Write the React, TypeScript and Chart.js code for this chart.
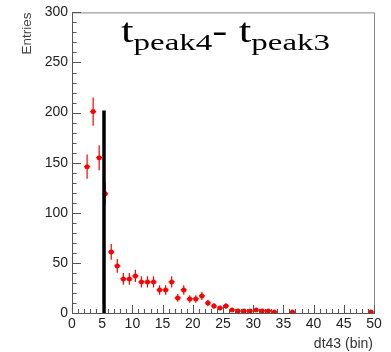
import React, { useEffect, useRef } from "react";
import { Chart, registerables } from "chart.js";
Chart.register(...registerables);

// Histogram bins (bin centres) and entries
const binCenters = [2.5, 3.5, 4.5, 5.5, 6.5, 7.5, 8.5, 9.5, 10.5, 11.5, 12.5, 13.5, 14.5, 15.5, 16.5, 17.5, 18.5, 19.5, 20.5, 21.5, 22.5, 23.5, 24.5, 25.5, 26.5, 27.5, 28.5, 29.5, 30.5, 31.5, 32.5, 33.5, 36.5, 49.5];
const counts = [146, 201, 155, 119, 61, 47, 34, 34, 37, 31, 31, 31, 23, 23, 31, 15, 23, 14, 14, 17, 10, 7, 5, 7, 3, 2, 2, 2, 3, 2, 2, 1, 1, 1];
const binHalfWidth = 0.5;

// Cut line
const cutX = [5.3, 5.3];
const cutY = [0, 202];

// Axis ranges / ticks
const xRange = [0, 50];
const yRange = [0, 300];
const xMajorStep = 5;
const xMinorStep = 1;
const yMajorStep = 50;
const yMinorStep = 10;

const titleMain1 = "t";
const titleSub1 = "peak4";
const titleMid = "- ";
const titleMain2 = "t";
const titleSub2 = "peak3";
const yTitle = "Entries";
const xTitle = "dt43 (bin)";

const RED = "#ff0000";
const AXIS = "#555555";

const decorPlugin = {
  id: "decor",
  beforeDatasetsDraw(chart: any) {
    const ctx = chart.ctx;
    const xs = chart.scales.x;
    const ys = chart.scales.y;
    ctx.save();
    ctx.strokeStyle = RED;
    ctx.lineWidth = 1.2;
    binCenters.forEach((c, i) => {
      const n = counts[i];
      const e = Math.sqrt(n);
      const px = xs.getPixelForValue(c);
      const py = ys.getPixelForValue(n);
      ctx.beginPath();
      ctx.moveTo(px, ys.getPixelForValue(Math.max(0, n - e)));
      ctx.lineTo(px, ys.getPixelForValue(n + e));
      ctx.moveTo(xs.getPixelForValue(c - binHalfWidth), py);
      ctx.lineTo(xs.getPixelForValue(c + binHalfWidth), py);
      ctx.stroke();
    });
    ctx.restore();
  },
  afterDraw(chart: any) {
    const ctx = chart.ctx;
    const xs = chart.scales.x;
    const ys = chart.scales.y;
    const a = chart.chartArea;
    ctx.save();
    // frame top & right
    ctx.strokeStyle = "#888888";
    ctx.lineWidth = 1;
    ctx.beginPath();
    ctx.moveTo(a.left, a.top + 0.5);
    ctx.lineTo(a.right + 0.5, a.top + 0.5);
    ctx.lineTo(a.right + 0.5, a.bottom);
    ctx.stroke();
    // ticks inward
    ctx.strokeStyle = AXIS;
    ctx.beginPath();
    for (let v = xRange[0]; v <= xRange[1] + 1e-9; v += xMinorStep) {
      const px = Math.round(xs.getPixelForValue(v)) + 0.5;
      const len = Math.abs(v % xMajorStep) < 1e-9 ? 8 : 4;
      ctx.moveTo(px, a.bottom);
      ctx.lineTo(px, a.bottom - len);
    }
    for (let v = yRange[0]; v <= yRange[1] + 1e-9; v += yMinorStep) {
      const py = Math.round(ys.getPixelForValue(v)) + 0.5;
      const len = Math.abs(v % yMajorStep) < 1e-9 ? 9 : 4.5;
      ctx.moveTo(a.left, py);
      ctx.lineTo(a.left + len, py);
    }
    ctx.stroke();

    // axis titles
    ctx.fillStyle = "#333333";
    ctx.font = '14px "Liberation Sans", Arial, sans-serif';
    ctx.textAlign = "right";
    ctx.textBaseline = "middle";
    ctx.fillText(xTitle, a.right - 1, 344);
    ctx.save();
    ctx.fillStyle = "#444444";
    ctx.font = '13.5px "Liberation Sans", Arial, sans-serif';
    ctx.translate(27, a.top);
    ctx.rotate(-Math.PI / 2);
    ctx.textAlign = "right";
    ctx.fillText(yTitle, 0, 0);
    ctx.restore();

    // main title with subscripts
    const mainFont = '33px "Liberation Serif", serif';
    const subFont = '24px "Liberation Serif", serif';
    const pieces = [
      { t: titleMain1, f: mainFont, dy: 0 },
      { t: titleSub1, f: subFont, dy: 8 },
      { t: titleMid, f: mainFont, dy: 0 },
      { t: titleMain2, f: mainFont, dy: 0 },
      { t: titleSub2, f: subFont, dy: 8 },
    ];
    let total = 0;
    const widths = pieces.map((p) => {
      ctx.font = p.f;
      const w = ctx.measureText(p.t).width;
      total += w;
      return w;
    });
    const x0 = 121;
    const targetW = 330 - 121;
    const sx = targetW / total;
    ctx.fillStyle = "#000000";
    ctx.textAlign = "left";
    ctx.textBaseline = "alphabetic";
    ctx.translate(x0, 0);
    ctx.scale(sx, 1);
    let cx = 0;
    pieces.forEach((p, i) => {
      ctx.font = p.f;
      ctx.fillText(p.t, cx, 42 + p.dy);
      cx += widths[i];
    });
    ctx.restore();
  },
};

export default function App() {
  const ref = useRef<HTMLCanvasElement>(null);
  useEffect(() => {
    if (!ref.current) return;
    const chart = new Chart(ref.current, {
      type: "scatter",
      data: {
        datasets: [
          {
            type: "line",
            data: cutX.map((x, i) => ({ x, y: cutY[i] })),
            borderColor: "#000000",
            borderWidth: 3.5,
            pointRadius: 0,
            fill: false,
          } as any,
          {
            data: binCenters.map((x, i) => ({ x, y: counts[i] })),
            backgroundColor: RED,
            borderColor: RED,
            pointRadius: 2.5,
            pointBorderWidth: 0,
          },
        ],
      },
      plugins: [decorPlugin],
      options: {
        animation: false,
        responsive: false,
        layout: { padding: { top: 10, right: 17, left: 0, bottom: 0 } },
        plugins: { legend: { display: false }, tooltip: { enabled: false } },
        scales: {
          x: {
            type: "linear",
            min: xRange[0],
            max: xRange[1],
            afterFit: (s: any) => {
              s.height = 39;
            },
            ticks: {
              stepSize: xMajorStep,
              color: "#222222",
              padding: 3,
              maxRotation: 0,
              font: { family: '"Liberation Sans", Arial, sans-serif', size: 14 },
            },
            grid: { display: false, drawTicks: false },
            border: { display: true, color: AXIS, width: 1 },
          },
          y: {
            type: "linear",
            min: yRange[0],
            max: yRange[1],
            afterFit: (s: any) => {
              s.width = 72;
            },
            ticks: {
              stepSize: yMajorStep,
              color: "#222222",
              padding: 4,
              font: { family: '"Liberation Sans", Arial, sans-serif', size: 14 },
            },
            grid: { display: false, drawTicks: false },
            border: { display: true, color: AXIS, width: 1 },
          },
        },
      },
    } as any);
    return () => chart.destroy();
  }, []);
  return (
    <div style={{ position: "absolute", left: 0, top: 0, width: 391, height: 352, background: "#fff" }}>
      <canvas ref={ref} width={391} height={352} style={{ display: "block" }} />
    </div>
  );
}
